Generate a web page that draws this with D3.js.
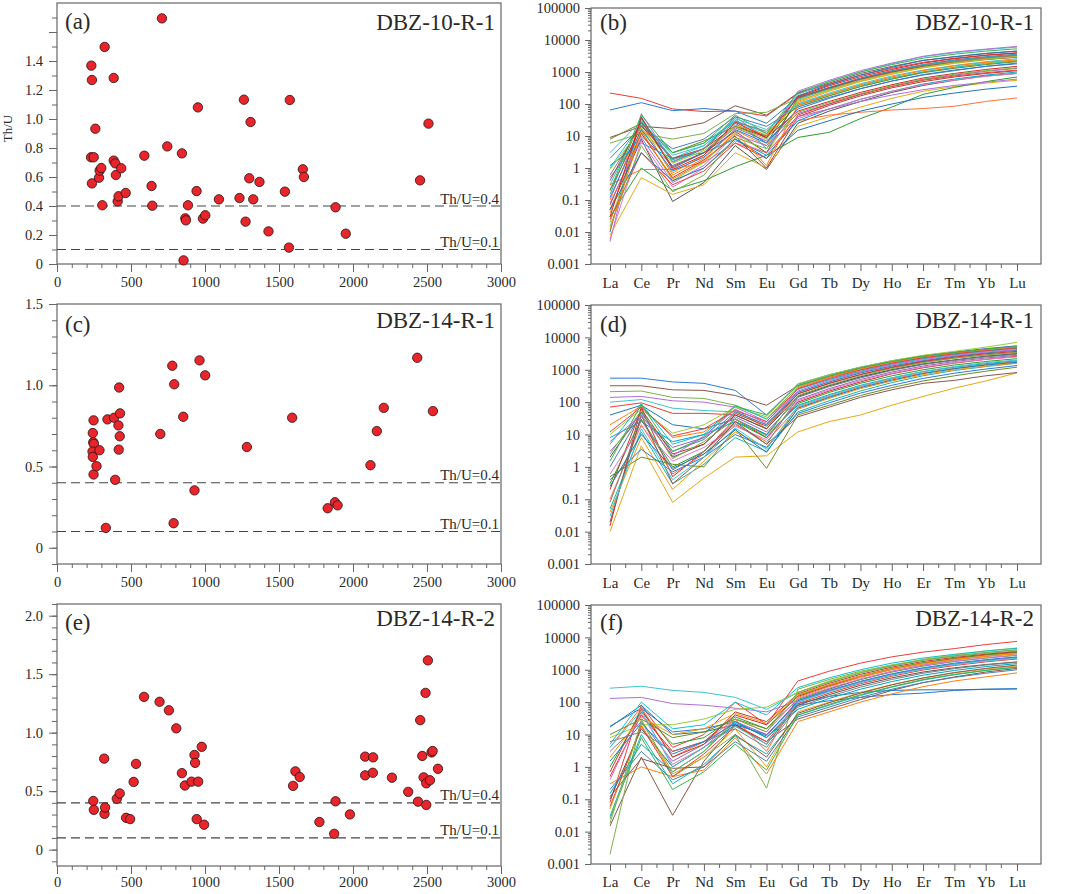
<!DOCTYPE html>
<html><head><meta charset="utf-8">
<script src="https://cdn.jsdelivr.net/npm/d3@7"></script>
<style>body{margin:0;background:#fff}svg{display:block}</style></head>
<body>
<script>
// ---------- DATA ----------
const sampleNames = ["DBZ-10-R-1", "DBZ-14-R-1", "DBZ-14-R-2"];
const panelTags = ["(a)", "(b)", "(c)", "(d)", "(e)", "(f)"];
const thuRefValues = [0.4, 0.1];
const thuRefLabels = ["Th/U=0.4", "Th/U=0.1"];
const ageTicks = [0, 500, 1000, 1500, 2000, 2500, 3000];
const elements = ["La","Ce","Pr","Nd","Sm","Eu","Gd","Tb","Dy","Ho","Er","Tm","Yb","Lu"];
const logTicks = [0.001, 0.01, 0.1, 1, 10, 100, 1000, 10000, 100000];

// (a) DBZ-10-R-1 age (Ma) and Th/U
const agesA = [709,322,232,236,383,259,230,248,236,284,288,299,306,383,394,398,434,410,416,464,590,639,644,745,844,855,867,871,885,943,952,986,1002,1094,1233,1263,1274,1299,1308,1326,1368,1429,1540,1567,1573,1661,1668,1882,1951,2453,2510];
const thuA = [1.694,1.497,1.368,1.269,1.283,0.933,0.736,0.736,0.556,0.595,0.644,0.662,0.405,0.713,0.694,0.614,0.660,0.432,0.467,0.490,0.747,0.538,0.402,0.811,0.763,0.025,0.315,0.301,0.405,0.503,1.080,0.313,0.336,0.446,0.455,1.133,0.292,0.591,0.979,0.446,0.566,0.225,0.499,0.113,1.131,0.653,0.600,0.391,0.209,0.577,0.968];
// (c) DBZ-14-R-1
const agesC = [247,242,245,249,240,242,247,267,287,341,330,386,393,420,426,415,424,417,698,779,792,788,853,929,963,1001,1283,1589,1829,1878,1896,2118,2161,2208,2434,2540];
const thuC = [0.784,0.706,0.649,0.639,0.592,0.559,0.451,0.502,0.600,0.790,0.122,0.800,0.418,0.986,0.827,0.753,0.686,0.604,0.700,1.120,1.006,0.151,0.806,0.353,1.153,1.061,0.620,0.800,0.243,0.280,0.261,0.508,0.718,0.861,1.169,0.841];
// (e) DBZ-14-R-2
const agesE = [245,249,319,321,325,404,424,467,494,518,534,588,693,756,806,844,864,909,929,933,954,944,978,994,1595,1611,1640,1773,1873,1882,1979,2082,2082,2136,2134,2263,2373,2439,2454,2468,2477,2490,2495,2495,2506,2520,2531,2538,2574];
const thuE = [0.416,0.340,0.778,0.306,0.360,0.435,0.480,0.272,0.261,0.579,0.733,1.306,1.264,1.191,1.037,0.654,0.548,0.581,0.809,0.742,0.581,0.261,0.879,0.213,0.545,0.669,0.621,0.236,0.135,0.413,0.301,0.795,0.635,0.789,0.657,0.615,0.494,0.410,1.107,0.801,0.618,1.340,0.567,0.382,1.618,0.593,0.831,0.843,0.691];

// (b) chondrite-normalised REE, DBZ-10-R-1
const reeB = [
[220,150,70,58,60,42,210,420,800,1300,2000,2700,3400,4000],
[65,110,62,72,60,25,160,330,650,1100,1700,2400,3000,3600],
[9,20,17,26,88,45,220,450,900,1500,2300,3000,3800,4500],
[6,12,8,12,50,55,150,300,600,1000,1500,2100,2700,3200],
[0.3,30,2,5,30,10,200,500,1000,1800,3000,4000,5000,6000],
[0.005,50,1.5,4,40,8,250,550,1100,1900,3100,4200,5200,6300],
[0.01,40,1,3,25,6,180,400,800,1400,2300,3000,3800,4500],
[0.1,25,0.6,2,15,5,120,280,550,950,1500,2100,2700,3200],
[0.02,15,0.4,1.5,12,3,80,180,350,600,1000,1400,1900,2300],
[0.2,20,2,4,20,9,60,120,230,400,650,900,1200,1500],
[1,25,3,6,30,12,100,200,380,650,1000,1400,1800,2200],
[0.05,8,0.09,0.35,5,0.9,25,60,120,230,380,550,750,900],
[0.008,0.5,0.15,0.3,3,1,20,40,80,150,250,350,450,550],
[0.03,1,0.2,0.4,1.1,2.5,9,13,35,80,200,330,500,700],
[0.3,0.9,0.9,1.5,6,3,30,45,55,65,72,85,120,155],
[2,20,4,8,40,20,80,160,300,520,800,1100,1500,1900],
[0.5,10,1.2,3,18,7,50,100,200,360,580,800,1050,1300],
[0.15,35,1.6,4,35,4,140,300,600,1050,1700,2300,2900,3400],
[0.07,12,0.5,1.8,10,1,40,90,180,320,500,700,900,1100],
[8,25,3,7,20,10,90,180,350,600,950,1300,1700,2100],
[1.2,6,2,3,8,2.5,30,70,140,250,420,600,800,1000],
[0.04,18,0.7,2.5,22,11,110,250,500,850,1350,1850,2400,2900],
[0.2,45,3,6,45,12,230,500,1000,1700,2700,3600,4500,5300],
[0.006,7,0.25,1,7,3,35,70,140,250,400,560,730,900],
[0.6,22,1.8,4,28,14,150,320,620,1050,1600,2200,2800,3300],
[0.025,3,0.3,0.8,6,2,45,100,200,350,550,750,950,1150],
[0.12,16,0.8,2.2,16,6,70,150,300,520,830,1150,1500,1800],
[0.4,28,1.1,3,14,3,160,320,600,1000,1500,2000,2500,2900],
[0.015,5,0.18,0.6,9,4,55,110,210,370,600,850,1100,1350],
[3,30,2.5,5,35,16,100,220,430,750,1150,1600,2100,2600],
[0.08,9,0.35,1.2,11,5,40,70,120,190,280,380,480,600],
[0.05,3,0.4,1,8,2,15,30,60,100,160,220,290,360],
[0.012,14,0.45,1.6,13,1.2,90,200,400,700,1100,1550,2000,2400],
[0.9,18,1.4,3.5,19,8,130,270,520,900,1400,1950,2500,3000],
[0.03,38,0.9,2.5,27,9,170,370,720,1200,1900,2600,3300,3900]
];
// (d) DBZ-14-R-1
const reeD = [
[70,95,45,45,40,15,180,380,700,1150,1700,2300,2900,3500],
[550,550,420,380,230,40,360,700,1200,1900,2700,3500,4500,5500],
[320,320,240,230,160,80,320,620,1100,1800,2600,3400,4300,5200],
[210,220,140,130,80,30,300,600,1000,1600,2300,3100,3900,4700],
[100,120,65,55,50,20,200,420,800,1300,1900,2600,3300,4000],
[140,150,110,100,70,25,250,500,900,1500,2200,2900,3700,4500],
[40,80,20,15,30,10,150,320,600,1000,1500,2000,2600,3200],
[20,75,8,12,60,15,280,580,1050,1700,2500,3300,4200,5000],
[10,60,11,20,70,35,370,700,1200,1900,2800,3700,5000,7000],
[0.015,70,0.5,3,30,8,100,220,420,750,1150,1600,2100,2600],
[5,90,5,10,80,30,250,500,900,1500,2200,3000,3800,4600],
[2,50,2,5,40,15,150,320,600,1000,1500,2000,2600,3100],
[0.01,4.5,0.08,0.45,2,2.2,12,25,40,80,150,270,450,800],
[0.3,30,1,3,25,8,90,200,380,650,1000,1400,1800,2200],
[0.1,20,0.6,2.5,20,6,70,150,300,520,800,1100,1450,1800],
[1,45,3,7,50,20,200,420,800,1300,1900,2600,3300,4000],
[3,35,4,8,35,12,120,260,500,850,1300,1800,2300,2800],
[0.05,12,0.3,1.2,8,3,50,110,220,400,650,950,1250,1600],
[0.2,60,2.5,5,45,18,180,380,720,1200,1800,2450,3100,3700],
[0.5,2,1.2,1,15,0.9,40,80,160,280,450,650,900,1200],
[8,25,6,10,25,10,80,170,330,560,880,1200,1550,1900],
[0.04,8,0.2,1.5,12,4,60,130,260,450,700,1000,1300,1600],
[1.5,85,3,8,75,40,330,650,1150,1800,2600,3400,4300,5200],
[0.6,18,1.5,4,18,7,110,240,460,780,1200,1650,2100,2500],
[0.08,28,0.8,3,22,5,140,300,560,950,1450,1950,2500,3000],
[12,70,9,15,55,25,260,540,980,1600,2350,3100,3900,4700],
[0.4,3.5,0.7,2,10,4,45,95,190,330,540,780,1050,1350],
[0.02,40,0.3,2,25,5,35,70,140,240,380,470,650,820],
[2.5,55,1.8,6,30,9,160,340,650,1080,1650,2250,2850,3400],
[0.03,15,0.4,2,16,3.5,75,160,320,560,880,1250,1650,2000],
[6,40,2.2,9,60,22,220,460,850,1400,2050,2750,3500,4200],
[0.25,10,0.9,2.5,14,2.8,65,140,280,480,760,1080,1400,1700]
];
// (f) DBZ-14-R-2
const reeF = [
[0.08,80,4,10,100,20,450,900,1600,2500,3500,4500,6000,7500],
[18,65,12,15,25,8,80,110,140,170,190,230,250,260],
[0.015,2,0.032,1.5,20,6,30,60,120,230,400,600,850,1100],
[0.002,30,0.5,2,10,0.22,250,500,900,1400,2000,2600,3200,3800],
[270,310,230,200,140,60,200,420,800,1300,2000,2700,3400,4200],
[130,140,90,80,65,50,110,250,500,900,1400,2000,2600,3200],
[17,80,10,12,20,10,90,150,200,230,240,240,250,255],
[0.3,1,0.5,0.8,8,0.6,25,50,100,180,300,450,600,800],
[8,20,20,30,60,70,200,450,850,1400,2100,2900,3800,4700],
[0.5,40,3,6,40,20,150,320,620,1050,1600,2200,2900,3500],
[5,100,15,20,100,40,280,560,1000,1600,2300,3000,3800,4600],
[0.1,15,1,4,20,5,80,170,330,560,850,1150,1450,1750],
[0.05,20,0.6,2,15,1,50,100,200,350,550,800,1050,1300],
[1,50,5,8,35,15,120,260,500,850,1300,1800,2300,2800],
[4,70,2,6,30,3,140,300,580,1000,1500,2050,2600,3100],
[0.2,3,0.4,1,6,1.5,35,70,140,250,400,580,780,1000],
[3,25,1.5,5,25,10,100,220,420,720,1100,1500,1950,2400],
[0.03,10,0.3,1.2,9,2.5,40,80,160,290,480,700,950,1200],
[0.7,60,2,5,50,25,180,380,720,1200,1800,2400,3000,3600],
[10,30,8,12,30,15,160,340,650,1100,1650,2250,2850,3400],
[0.15,5,0.7,3,25,8,60,130,250,430,680,950,1250,1550],
[2,35,10,15,45,22,170,350,640,1050,1550,2100,2650,3200],
[0.025,8,0.2,0.7,5,0.8,40,85,170,300,500,720,960,1200],
[0.4,45,1.2,4,30,12,130,270,520,880,1350,1850,2350,2850],
[6,12,3,6,15,4,70,150,290,500,780,1080,1400,1700],
[0.06,18,0.5,2.5,18,6,90,190,370,630,980,1350,1750,2150],
[1.5,22,2.5,6,22,9,110,230,440,750,1150,1600,2050,2500],
[0.12,1.8,0.9,1,10,2,45,95,190,340,560,820,1100,1400],
[0.018,25,0.7,3,30,12,200,420,800,1350,2000,2700,3400,4100],
[4,55,1,4,18,5,100,210,400,680,1050,1450,1850,2250]
];

// ---------- STYLE ----------
const palette = ["#e8403a","#2b7bd6","#8c564b","#7fb04a","#3fc4d0","#b06fd8","#1f77b4","#ff7f0e","#9acd32","#d62728","#17becf","#555555","#e6a817","#2ca02c","#ff6f3c","#4682b4","#9467bd","#20b2aa","#c0392b","#6b8e23","#00a5c8","#f39c12","#3cb44b","#e377c2","#7f7f7f"];
const FONT = "Liberation Serif, Times New Roman, serif";
const frameCol = "#666", textCol = "#2a2a2a";

const svg = d3.select("body").append("svg").attr("width",1065).attr("height",894)
  .attr("font-family",FONT).style("font-family",FONT);

function styleAxis(g, fs){
  g.select(".domain").remove();
  g.attr("font-family",FONT);
  g.selectAll(".tick line").attr("stroke",frameCol).attr("stroke-width",1);
  g.selectAll(".tick text").attr("fill",textCol).style("font-size",fs+"px").style("font-family",FONT);
}

// ---------- SCATTER PANELS ----------
const scatterPanels = [
  {ages:agesA, thu:thuA, name:sampleNames[0], tag:panelTags[0], top:3, bottom:264, dom:[0,1.8],
   labels:[0,0.2,0.4,0.6,0.8,1.0,1.2,1.4], majors:[0,0.2,0.4,0.6,0.8,1.0,1.2,1.4,1.6], minorRange:[0,17], tagY:29, nameY:30, ylabel:true, pad:5},
  {ages:agesC, thu:thuC, name:sampleNames[1], tag:panelTags[2], top:304, bottom:564, dom:[-0.1,1.5],
   labels:[0,0.5,1.0,1.5], majors:[0,0.5,1.0,1.5], minorRange:[-1,15], tagY:332, nameY:328, pad:5},
  {ages:agesE, thu:thuE, name:sampleNames[2], tag:panelTags[4], top:604, bottom:866, dom:[-0.14,2.1],
   labels:[0,0.5,1.0,1.5,2.0], majors:[0,0.5,1.0,1.5,2.0], minorRange:[-1,21], tagY:630, nameY:626, pad:3}
];
const LX0 = 57, LX1 = 501;

scatterPanels.forEach(p=>{
  const g = svg.append("g");
  const x = d3.scaleLinear().domain([0,3000]).range([LX0,LX1]);
  const y = d3.scaleLinear().domain(p.dom).range([p.bottom,p.top]);
  const fmt = d=> d===0 ? "0" : d.toFixed(1);
  const minors = d3.range(p.minorRange[0], p.minorRange[1]+1).map(i=>i/10);
  styleAxis(g.append("g").attr("transform",`translate(${LX0},0)`)
     .call(d3.axisLeft(y).tickValues(minors).tickSize(5).tickFormat("")),14);
  styleAxis(g.append("g").attr("transform",`translate(${LX0},0)`)
     .call(d3.axisLeft(y).tickValues(p.majors).tickSize(8).tickPadding(6)
       .tickFormat(d=> p.labels.some(l=>Math.abs(l-d)<1e-9) ? fmt(d) : "")),14.5);
  styleAxis(g.append("g").attr("transform",`translate(0,${p.bottom})`)
     .call(d3.axisBottom(x).tickValues(d3.range(0,3001,100)).tickSize(4).tickFormat("")),14);
  styleAxis(g.append("g").attr("transform",`translate(0,${p.bottom})`)
     .call(d3.axisBottom(x).tickValues(ageTicks).tickSize(8).tickPadding(p.pad).tickFormat(d3.format("d"))),14.5);
  g.append("rect").attr("x",LX0).attr("y",p.top).attr("width",LX1-LX0).attr("height",p.bottom-p.top)
    .attr("fill","none").attr("stroke",frameCol).attr("stroke-width",1.2);
  thuRefValues.forEach((v,i)=>{
    g.append("line").attr("x1",LX0).attr("x2",LX1).attr("y1",y(v)).attr("y2",y(v))
      .attr("stroke","#444").attr("stroke-width",1.2).attr("stroke-dasharray","9,5");
    g.append("text").attr("x",LX1-2).attr("y",y(v)-2.5).attr("text-anchor","end")
      .attr("fill",textCol).style("font-size","15px").text(thuRefLabels[i]);
  });
  g.selectAll("circle").data(p.ages.map((a,i)=>[a,p.thu[i]])).join("circle")
    .attr("cx",d=>x(d[0])).attr("cy",d=>y(d[1])).attr("r",4.7)
    .attr("fill","#e8252b").attr("stroke","#2a1010").attr("stroke-width",0.8);
  g.append("text").attr("x",65).attr("y",p.tagY).attr("fill",textCol).style("font-size","23px").text(p.tag);
  g.append("text").attr("x",LX1-6).attr("y",p.nameY).attr("text-anchor","end").attr("fill",textCol)
    .style("font-size","23px").text(p.name);
  if(p.ylabel){
    g.append("text").attr("transform",`translate(12,${(p.top+p.bottom)/2-5}) rotate(-90)`)
      .attr("text-anchor","middle").attr("fill",textCol).style("font-size","13px").text("Th/U");
  }
});

// ---------- REE PANELS ----------
const reePanels = [
  {data:reeB, name:sampleNames[0], tag:panelTags[1], top:8, bottom:264, tagY:30, nameY:30, pad:6},
  {data:reeD, name:sampleNames[1], tag:panelTags[3], top:305, bottom:564, tagY:332, nameY:328, pad:6},
  {data:reeF, name:sampleNames[2], tag:panelTags[5], top:605, bottom:864, tagY:630, nameY:626, pad:5}
];
const RX0 = 591, RX1 = 1041;
reePanels.forEach(p=>{
  const g = svg.append("g");
  const x = d3.scalePoint().domain(elements).range([610,1017]);
  const y = d3.scaleLog().domain([0.001,100000]).range([p.bottom,p.top]);
  const minorVals = [];
  logTicks.slice(0,-1).forEach(t=>{ for(let k=2;k<10;k++) minorVals.push(t*k); });
  styleAxis(g.append("g").attr("transform",`translate(${RX0},0)`)
     .call(d3.axisLeft(y).tickValues(minorVals).tickSize(3).tickFormat("")),14);
  styleAxis(g.append("g").attr("transform",`translate(${RX0},0)`)
     .call(d3.axisLeft(y).tickValues(logTicks).tickSize(6).tickPadding(5)
       .tickFormat(d=> d<1 ? String(+d.toPrecision(1)) : d3.format("d")(d))),14.5);
  const step = x.step();
  const mids = elements.slice(0,-1).map(e=>x(e)+step/2);
  const midG = g.append("g").attr("transform",`translate(0,${p.bottom})`);
  midG.selectAll("line").data(mids).join("line").attr("x1",d=>d).attr("x2",d=>d)
    .attr("y1",0).attr("y2",4).attr("stroke",frameCol);
  styleAxis(g.append("g").attr("transform",`translate(0,${p.bottom})`)
     .call(d3.axisBottom(x).tickSize(7).tickPadding(p.pad)),15);
  const line = d3.line().x((d,i)=>x(elements[i])).y(d=>y(d));
  g.append("g").selectAll("path").data(p.data).join("path")
    .attr("d",line).attr("fill","none").attr("stroke",(d,i)=>palette[i%palette.length])
    .attr("stroke-width",1).attr("stroke-linejoin","round");
  g.append("rect").attr("x",RX0).attr("y",p.top).attr("width",RX1-RX0).attr("height",p.bottom-p.top)
    .attr("fill","none").attr("stroke",frameCol).attr("stroke-width",1.2);
  g.append("text").attr("x",600).attr("y",p.tagY).attr("fill",textCol).style("font-size","23px").text(p.tag);
  g.append("text").attr("x",RX1-7).attr("y",p.nameY).attr("text-anchor","end").attr("fill",textCol)
    .style("font-size","23px").text(p.name);
});
</script>
</body></html>
